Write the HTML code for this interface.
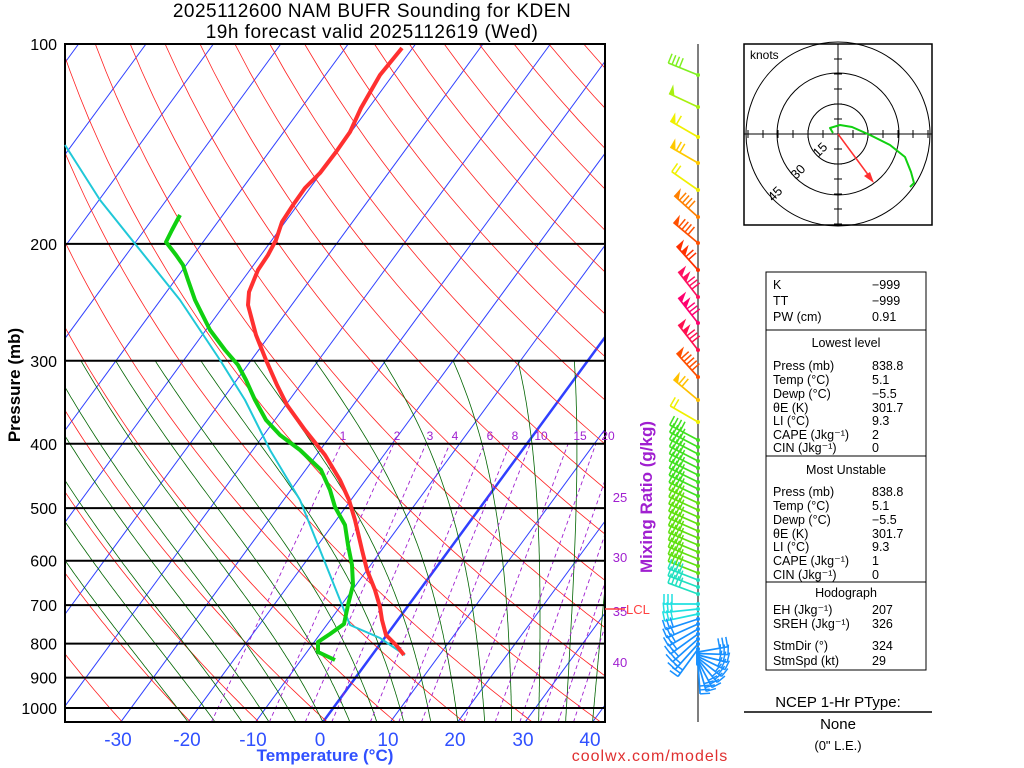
<!DOCTYPE html>
<html><head><meta charset="utf-8"><style>
body{margin:0;background:#fff;}
svg{display:block;font-family:"Liberation Sans",sans-serif;}
</style></head><body>
<svg id="s" width="1024" height="768" xmlns="http://www.w3.org/2000/svg">
<defs><clipPath id="cp"><rect x="65" y="44" width="540" height="678"/></clipPath></defs>
<g id="bg" clip-path="url(#cp)"></g>
<g id="fg"></g>
<text x="372" y="17" font-size="19" text-anchor="middle" letter-spacing="0.5">2025112600 NAM BUFR Sounding for KDEN</text>
<text x="372" y="38" font-size="19" text-anchor="middle" letter-spacing="0.5">19h forecast valid 2025112619 (Wed)</text>
<text x="325" y="761" font-size="17" fill="#3050ff" text-anchor="middle" font-weight="bold">Temperature (°C)</text>
<text x="650" y="761" font-size="16" fill="#e03030" text-anchor="middle" letter-spacing="1">coolwx.com/models</text>
<text transform="translate(20,385) rotate(-90)" font-size="17" text-anchor="middle" font-weight="bold">Pressure (mb)</text>
<text transform="translate(652,497) rotate(-90)" font-size="17" fill="#a020d0" text-anchor="middle" font-weight="bold">Mixing Ratio (g/kg)</text>
</svg>
<script>
const NS="http://www.w3.org/2000/svg";
const bg=document.getElementById('bg'),fg=document.getElementById('fg');
function el(p,tag,a,txt){const e=document.createElementNS(NS,tag);for(const k in a)e.setAttribute(k,a[k]);if(txt!==undefined)e.textContent=txt;p.appendChild(e);return e;}
const Y=p=>44+664*Math.log10(p/100);
const X=(T,p)=>323+6.74*T+0.733*(722-Y(p));
function pl(par,pts,c,w,da){el(par,'polyline',{points:pts.map(q=>q[0].toFixed(1)+','+q[1].toFixed(1)).join(' '),fill:'none',stroke:c,'stroke-width':w,'stroke-dasharray':da||'none','stroke-linejoin':'round'});}
for(let T=-150;T<=50;T+=10){pl(bg,[[X(T,1050),Y(1050)],[X(T,100),Y(100)]],'#3040ff',T==0?2.5:1);}
for(let th=200;th<=500;th+=10){const pts=[];for(let p=1050;p>=100;p-=10){const T=th*Math.pow(p/1000,0.286)-273.15;pts.push([X(T,p),Y(p)]);}pl(bg,pts,'#ff2020',0.8);}
function es(T){return 6.112*Math.exp(17.67*T/(T+243.5));}
for(let T0=-20;T0<=44;T0+=4){let T=T0;const pts=[];for(let p=1050;p>=300;p-=5){pts.push([X(T,p),Y(p)]);const Tk=T+273.15;const ws=0.622*es(T)/(p-es(T));const L=2.5e6;const g=(287*Tk+L*ws)/(1004+L*L*ws*0.622/(287*Tk*Tk))/p;T-=g*5;}pl(bg,pts,'#006400',0.8);}
const ws=[1,2,3,4,6,8,10,15,20,25,30,35,40];
function tdw(w,p){const e=w/1000*p/(0.622+w/1000);const l=Math.log(e/6.112);return 243.5*l/(17.67-l);}
ws.forEach(w=>{pl(bg,[[X(tdw(w,1050),1050),Y(1050)],[X(tdw(w,400),400),Y(400)]],'#a020d0',0.9,'4,3');});
[100,200,300,400,500,600,700,800,900,1000].forEach(p=>{el(fg,'line',{x1:65,x2:605,y1:Y(p),y2:Y(p),stroke:'#000','stroke-width':2});el(fg,'text',{x:57,y:Y(p)+6,'font-size':16,'text-anchor':'end'},p);});
el(fg,'rect',{x:65,y:44,width:540,height:678,fill:'none',stroke:'#000','stroke-width':2});
[[-30,118],[-20,187],[-10,253],[0,320],[10,388],[20,455],[30,523],[40,590]].forEach(a=>el(fg,'text',{x:a[1],y:746,'font-size':19,fill:'#3050ff','text-anchor':'middle'},a[0]));
[[1,343],[2,397],[3,430],[4,455],[6,490],[8,515],[10,541],[15,580],[20,608]].forEach(a=>el(fg,'text',{x:a[1],y:440,'font-size':12,fill:'#a020d0','text-anchor':'middle'},a[0]));
[[25,497],[30,557],[35,611],[40,662]].forEach(a=>el(fg,'text',{x:620,y:a[1]+5,'font-size':13,fill:'#a020d0','text-anchor':'middle'},a[0]));
el(fg,'line',{x1:605,x2:625,y1:609,y2:609,stroke:'#ff4040','stroke-width':1.5});
el(fg,'text',{x:626,y:614,'font-size':13,fill:'#ff4040'},'LCL');
pl(fg,[[405,655],[380,638],[350,625],[340,600],[320,550],[300,500],[270,450],[245,400],[220,360],[180,300],[140,250],[100,200],[65,145]],'#20c8d8',2);
pl(fg,[[404,655],[396,645],[386,635],[382,620],[380,607],[375,590],[367,570],[362,550],[355,520],[349,500],[340,480],[325,455],[305,430],[287,405],[277,385],[266,360],[256,335],[248,305],[249,292],[258,270],[268,255],[276,240],[282,222],[293,205],[305,188],[320,173],[336,152],[350,132],[361,108],[380,75],[402,48]],'#ff3030',4);
pl(fg,[[335,660],[318,652],[318,642],[330,634],[344,624],[348,605],[353,585],[352,565],[348,545],[345,525],[335,507],[330,490],[321,470],[300,450],[280,435],[266,420],[255,400],[246,380],[238,365],[225,350],[210,330],[195,300],[188,280],[183,265],[176,255],[166,242],[172,230],[180,215]],'#10d010',4);
el(fg,'line',{x1:698,x2:698,y1:44,y2:722,stroke:'#555','stroke-width':1.5});
function barb(y,ang,len,col,nf,np,side){side=side||1;const a=ang*Math.PI/180;const dx=Math.cos(a),dy=Math.sin(a);const x1=698+dx*len,y1=y+dy*len;el(fg,'line',{x1:698,y1:y,x2:x1,y2:y1,stroke:col,'stroke-width':1.7});
 let px=dy*side,py=-dx*side; if(py>0){px=-px;py=-py;}
 for(let i=0;i<np;i++){const o=i*7;el(fg,'polygon',{points:`${x1-dx*o},${y1-dy*o} ${x1-dx*o+px*10},${y1-dy*o+py*10} ${x1-dx*(o+6)},${y1-dy*(o+6)}`,fill:col});}
 for(let i=0;i<nf;i++){const o=np*7+i*4;const bx=x1-dx*o,by=y1-dy*o;el(fg,'line',{x1:bx,y1:by,x2:bx+px*10,y2:by+py*10,stroke:col,'stroke-width':1.5});}
 el(fg,'circle',{cx:698,cy:y,r:2,fill:col});}
const up=[[75,'#80f020',4,0,-158],[107,'#a8f010',0,1,-155],[137,'#f0f000',1,1,-150],[163,'#ffc800',2,1,-150],[190,'#f0f000',2,0,-145],[217,'#ff8000',4,1,-138],[243,'#ff5000',4,1,-140],[270,'#ff3000',2,2,-132],[297,'#ff1060',3,2,-128],[323,'#ff0070',3,2,-128],[350,'#ff1050',3,2,-128],[377,'#ff5000',5,1,-132],[400,'#ffc000',2,1,-140],[422,'#f0f000',2,0,-150]];
up.forEach(b=>barb(b[0],b[4],32,b[1],b[2],b[3]));
for(let y=440;y<=600;y+=7){const t=(y-440)/160;const col=y<500?'#40e020':(y<580?'#60e010':'#20e0c0');barb(y,-152-t*8,32,col,4,0);}
for(let i=0;i<10;i++){const y=604+i*5;barb(y,180-i*6,34,i<3?'#20e0e0':'#1890ff',3,0);}
for(let i=0;i<9;i++){barb(652+i*1.5,-10+i*12,30,'#1890ff',3,0);}
el(fg,'rect',{x:744,y:44,width:188,height:181,fill:'#fff',stroke:'#000','stroke-width':1.5});
[30,61,92].forEach(r=>el(fg,'circle',{cx:838,cy:134,r:r,fill:'none',stroke:'#000','stroke-width':1}));
el(fg,'line',{x1:744,x2:932,y1:134,y2:134,stroke:'#000'});el(fg,'line',{x1:838,x2:838,y1:44,y2:225,stroke:'#000'});
for(let k=-6;k<=6;k++){if(k){el(fg,'line',{x1:838+k*15,x2:838+k*15,y1:130,y2:138,stroke:'#000'});el(fg,'line',{y1:134+k*15,y2:134+k*15,x1:834,x2:842,stroke:'#000'});}}
el(fg,'text',{x:750,y:59,'font-size':12},'knots');
[['15',818,158],['30',796,180],['45',773,202]].forEach(a=>el(fg,'text',{x:a[1],y:a[2],'font-size':13,transform:`rotate(-45 ${a[1]} ${a[2]})`},a[0]));
pl(fg,[[838,134],[872,180]],'#ff3030',1.5);el(fg,'polygon',{points:'874,183 864,176 870,172',fill:'#ff3030'});
pl(fg,[[833,133],[830,128],[840,125],[852,127],[870,135],[890,145],[905,157],[911,172],[914,183],[910,187]],'#10d010',2);
el(fg,'rect',{x:766,y:272,width:160,height:398,fill:'none',stroke:'#000'});
[330,456,582].forEach(y=>el(fg,'line',{x1:766,x2:926,y1:y,y2:y,stroke:'#000'}));
const rows=[[289,'K','−999'],[305,'TT','−999'],[321,'PW (cm)','0.91'],[370,'Press (mb)','838.8'],[384,'Temp (°C)','5.1'],[398,'Dewp (°C)','−5.5'],[412,'θE (K)','301.7'],[425,'LI (°C)','9.3'],[439,'CAPE (Jkg⁻¹)','2'],[452,'CIN (Jkg⁻¹)','0'],[496,'Press (mb)','838.8'],[510,'Temp (°C)','5.1'],[524,'Dewp (°C)','−5.5'],[538,'θE (K)','301.7'],[551,'LI (°C)','9.3'],[565,'CAPE (Jkg⁻¹)','1'],[579,'CIN (Jkg⁻¹)','0'],[614,'EH (Jkg⁻¹)','207'],[628,'SREH (Jkg⁻¹)','326'],[650,'StmDir (°)','324'],[665,'StmSpd (kt)','29']];
rows.forEach(r=>{el(fg,'text',{x:773,y:r[0],'font-size':12.5},r[1]);el(fg,'text',{x:872,y:r[0],'font-size':12.5},r[2]);});
[[347,'Lowest level'],[474,'Most Unstable'],[597,'Hodograph']].forEach(r=>el(fg,'text',{x:846,y:r[0],'font-size':12.5,'text-anchor':'middle'},r[1]));
el(fg,'text',{x:838,y:707,'font-size':15,'text-anchor':'middle'},'NCEP 1-Hr PType:');
el(fg,'line',{x1:744,x2:932,y1:712,y2:712,stroke:'#000','stroke-width':1.5});
el(fg,'text',{x:838,y:729,'font-size':15,'text-anchor':'middle'},'None');
el(fg,'text',{x:838,y:750,'font-size':13,'text-anchor':'middle'},'(0" L.E.)');
</script>
</body></html>
